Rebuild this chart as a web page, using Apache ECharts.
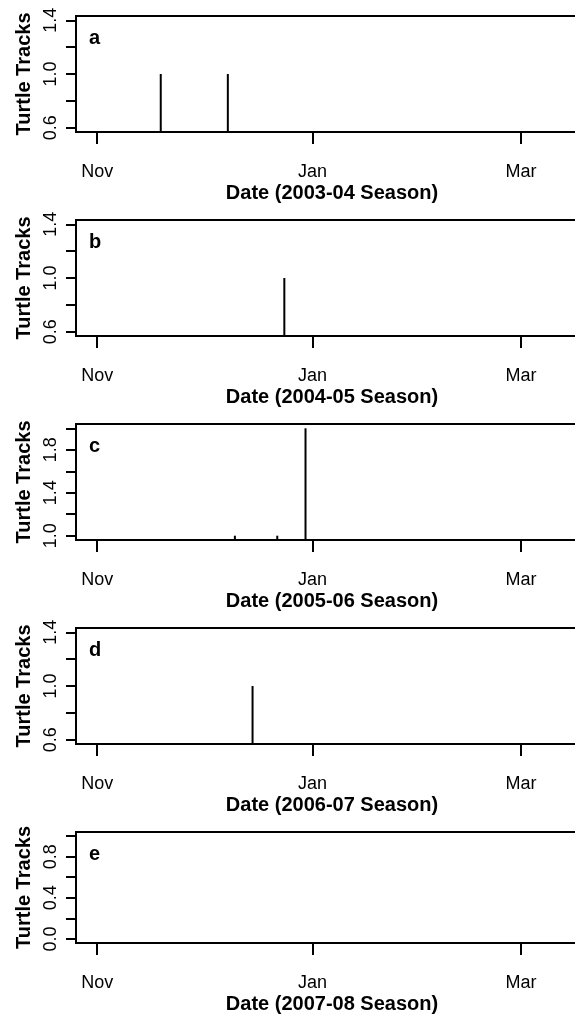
<!DOCTYPE html>
<html>
<head>
<meta charset="utf-8">
<script src="https://cdn.jsdelivr.net/npm/echarts@6/dist/echarts.min.js"></script>
<style>
	html, body { margin: 0; padding: 0; background: #fff; overflow: hidden; }
	/* wider than the window: the plot boxes run past the right edge like the cropped original */
	#tracks { width: 590px; height: 1015px; }
</style>
</head>
<body>
<div id="tracks"></div>
<script>
// nesting season panels, one vertical line per night with turtle tracks
var seasonYears = [2003, 2004, 2005, 2006, 2007];
var seasonLabels = ['2003-04', '2004-05', '2005-06', '2006-07', '2007-08'];
var panelLetters = ['a', 'b', 'c', 'd', 'e'];

var trackDatesA = ['2003-11-19', '2003-12-08'];
var trackCountsA = [1, 1];
var trackDatesB = ['2004-12-24'];
var trackCountsB = [1];
var trackDatesC = ['2005-12-10', '2005-12-22', '2005-12-30'];
var trackCountsC = [1, 1, 2];
var trackDatesD = ['2006-12-15'];
var trackCountsD = [1];
var trackDatesE = [];
var trackCountsE = [];

// x axis: days since 1 Nov of the season
var monthTickDays = [0, 61, 120];
var monthTickLabels = ['Nov', 'Jan', 'Mar'];

// y axis ticks and labels per panel
var yTicksA = [0.6, 0.8, 1.0, 1.2, 1.4];
var yLabelsA = [0.6, 1.0, 1.4];
var yTicksC = [1.0, 1.2, 1.4, 1.6, 1.8, 2.0];
var yLabelsC = [1.0, 1.4, 1.8];
var yTicksE = [0.0, 0.2, 0.4, 0.6, 0.8, 1.0];
var yLabelsE = [0.0, 0.4, 0.8];

var panels = [
	{dates: trackDatesA, counts: trackCountsA, ticks: yTicksA, labels: yLabelsA, min: 0.568, max: 1.432},
	{dates: trackDatesB, counts: trackCountsB, ticks: yTicksA, labels: yLabelsA, min: 0.568, max: 1.432},
	{dates: trackDatesC, counts: trackCountsC, ticks: yTicksC, labels: yLabelsC, min: 0.96, max: 2.04},
	{dates: trackDatesD, counts: trackCountsD, ticks: yTicksA, labels: yLabelsA, min: 0.568, max: 1.432},
	{dates: trackDatesE, counts: trackCountsE, ticks: yTicksE, labels: yLabelsE, min: -0.04, max: 1.04}
];

function dayOfSeason(dateStr, startYear) {
	var p = dateStr.split('-');
	var t = Date.UTC(+p[0], +p[1] - 1, +p[2]);
	return Math.round((t - Date.UTC(startYear, 10, 1)) / 86400000);
}

var FONT = '"Liberation Sans", Arial, Helvetica, sans-serif';
var option = {
	animation: false,
	backgroundColor: '#fff',
	title: [],
	grid: [],
	xAxis: [],
	yAxis: [],
	series: []
};

panels.forEach(function (pn, i) {
	var top = 16 + 204 * i;
	option.grid.push({
		left: 76, width: 512, top: top, height: 116,
		show: true, borderColor: '#000', borderWidth: 2, backgroundColor: 'transparent'
	});
	option.title.push({
		text: panelLetters[i],
		left: 89, top: top + 12, padding: 0,
		textStyle: {fontFamily: FONT, fontSize: 20, fontWeight: 'bold', color: '#000'}
	});
	option.xAxis.push({
		type: 'value', gridIndex: i,
		min: -6, max: 139,
		name: 'Date (' + seasonLabels[i] + ' Season)',
		nameLocation: 'middle', nameGap: 51,
		nameTextStyle: {fontFamily: FONT, fontSize: 20, fontWeight: 'bold', color: '#000'},
		axisLine: {show: false, onZero: false},
		axisTick: {show: true, length: 12, customValues: monthTickDays, lineStyle: {color: '#000', width: 2}},
		axisLabel: {
			customValues: monthTickDays, margin: 31,
			fontFamily: FONT, fontSize: 18, color: '#000',
			formatter: function (v) { return monthTickLabels[monthTickDays.indexOf(v)] || ''; }
		},
		splitLine: {show: false}
	});
	option.yAxis.push({
		type: 'value', gridIndex: i,
		min: pn.min, max: pn.max,
		name: 'Turtle Tracks',
		nameLocation: 'middle', nameGap: 34,
		nameTextStyle: {fontFamily: FONT, fontSize: 20, fontWeight: 'bold', color: '#000'},
		axisLine: {show: false, onZero: false},
		axisTick: {show: true, length: 10, customValues: pn.ticks, lineStyle: {color: '#000', width: 2}},
		axisLabel: {
			customValues: pn.labels, rotate: 90, margin: 16,
			fontFamily: FONT, fontSize: 18, color: '#000',
			formatter: function (v) { return v.toFixed(1); }
		},
		splitLine: {show: false}
	});
	option.series.push({
		type: 'bar', xAxisIndex: i, yAxisIndex: i,
		barWidth: 2,
		itemStyle: {color: '#000'},
		data: pn.dates.map(function (d, k) {
			return [dayOfSeason(d, seasonYears[i]), pn.counts[k]];
		})
	});
});

var myChart = echarts.init(document.getElementById('tracks'));
myChart.setOption(option);
</script>
</body>
</html>
